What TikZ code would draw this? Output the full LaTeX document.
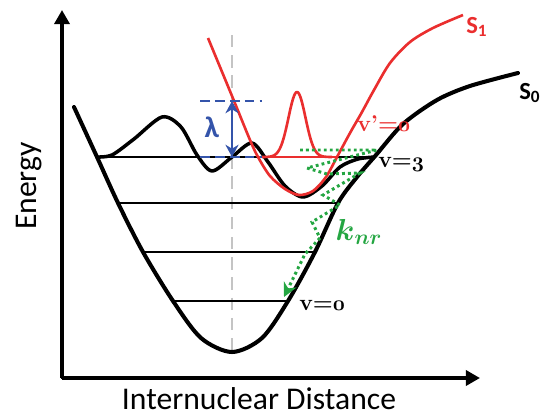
\documentclass[tikz,border=0pt]{standalone}
\usepackage{fontspec}
\setsansfont{Carlito}
\usepackage{amsmath, amssymb}
\usepackage{tikz}
\usetikzlibrary{arrows.meta}
\definecolor{sonered}{RGB}{234,46,46}
\definecolor{lamblue}{RGB}{52,84,170}
\definecolor{knrgreen}{RGB}{36,166,66}
\definecolor{midgray}{RGB}{196,196,196}
\newcommand{\vnum}[1]{{\fontencoding{OML}\fontfamily{cmm}\fontseries{b}\fontshape{it}\selectfont #1}}

\begin{document}
\begin{tikzpicture}[x=0.02cm, y=-0.02cm, font=\sffamily,
  axis/.style={line width=2.3pt, -{Triangle[length=8pt,width=8.5pt]}},
  axislabel/.style={font=\sffamily\fontsize{18}{20}\selectfont, inner sep=0pt},
  level/.style={line width=1.4pt},
  pes/.style={line width=2.3pt, line join=round, line cap=round},
  wavefn/.style={line width=2pt, line join=round},
  sone/.style={sonered, line width=1.5pt, line join=round},
  lamdash/.style={lamblue, line width=1.7pt, dash pattern=on 5.5pt off 3pt},
  knrpath/.style={knrgreen, line width=1.7pt, dash pattern=on 1.6pt off 1.8pt, -{Stealth[length=8pt,width=8pt]}},
  vlabel/.style={font=\rmfamily\bfseries\fontsize{13}{15}\selectfont, inner sep=0pt, anchor=west},
  slabel/.style={font=\sffamily\bfseries\fontsize{14}{16}\selectfont, inner sep=0pt, anchor=west}]
\useasboundingbox (0,0) rectangle (544,416);

\coordinate (origin) at (62,378);
\coordinate (ytip) at (62,10);
\coordinate (xtip) at (480,378);
\draw[axis] (origin) -- (ytip);
\draw[axis] (origin) -- (xtip);
\fill (60.8,376.8) rectangle (63.2,379.2);
\node[axislabel, rotate=90, anchor=base] (energy) at (36,186) {Energy};
\node[axislabel, anchor=base] (distance) at (259,409) {Internuclear Distance};

\draw[midgray, line width=1.7pt, dash pattern=on 7pt off 4.5pt] (232,35) -- (232,356);

\foreach \y/\xl/\xr in {157/97/375, 203/118/338, 252/143/315, 301/173/288}
  \draw[level] (\xl,\y) -- (\xr,\y);

\draw[pes] plot[smooth] coordinates {(74,107) (97,157) (118,203) (143,252) (173,301)
  (201,338) (232,352) (262,338) (288,301) (315,252) (338,203) (357,177) (376,155)
  (403,124) (437,100) (470,86) (518,73)};
\draw[wavefn] plot[smooth] coordinates {(97,157) (112,155) (134,139) (162,117) (181,127)
  (197,155) (212,171) (232,157) (252,143) (268,162) (285,186) (303,197) (322,186)
  (340,167) (358,159) (375,157)};

\draw[sone] plot[smooth] coordinates {(208,38) (232,96) (250,140) (258,157) (270,176)
  (285,189) (299,195) (313,191) (326,177) (337,157) (350,133) (362,112) (374,90)
  (390,63) (410,42) (433,28) (463,15)};
\draw[sone] (258,157) -- (337,157);
\draw[sone] plot[domain=262:332, samples=60] (\x,{157-65*exp(-((\x-297)/12)^2)});

\coordinate (lamtop) at (232,101);
\coordinate (lambot) at (232,157);
\draw[lamdash] (200,101) -- (262,101);
\draw[lamdash] (200,157) -- (262,157);
\draw[lamblue, line width=1.7pt, {Stealth[length=7pt,width=7.5pt]}-{Stealth[length=7pt,width=7.5pt]}]
  (lamtop) -- (lambot);
\node[lamblue, font=\sffamily\bfseries\fontsize{17}{19}\selectfont] (lambda) at (212,127) {λ};

\draw[knrpath] (300,150) -- (377,150) -- (307,168) -- (327,174) -- (360,173) -- (323,195)
  -- (340,205) -- (312,222) -- (320,238) -- (305,254) -- (284,297);
\node[knrgreen, font=\fontsize{17}{19}\selectfont] (knr) at (359,232) {$\boldsymbol{k}_{\boldsymbol{nr}}$};

\node[vlabel] (vthree) at (378,164) {v=\vnum{3}};
\node[vlabel] (vzero) at (299,305) {v=\vnum{0}};
\node[vlabel, sonered] (vpzero) at (357,124) {v'=\vnum{0}};
\node[slabel, sonered] (sonelbl) at (466,27) {S\textsubscript{1}};
\node[slabel] (szerolbl) at (519,93) {S\textsubscript{0}};
\end{tikzpicture}
\end{document}
